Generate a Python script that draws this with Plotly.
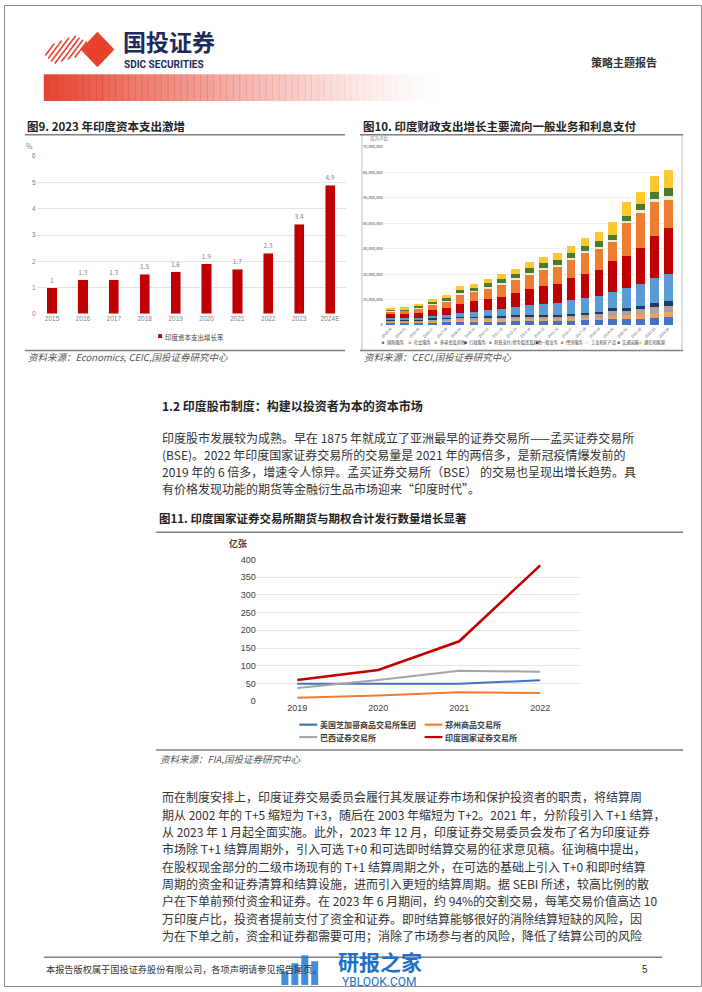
import plotly.graph_objects as go

W, H = 702, 992
def px(x): return x / W
def py(y): return 1 - y / H

# ---------------- data ----------------
years9 = ["2015", "2016", "2017", "2018", "2019", "2020", "2021", "2022", "2023", "2024E"]
capex_growth = [1, 1.3, 1.3, 1.5, 1.6, 1.9, 1.7, 2.3, 3.4, 4.9]
series9_name = "印度资本支出增长率"

years10 = ["2003-04", "2004-05", "2005-06", "2006-07", "2007-08", "2008-09", "2009-10",
           "2010-11", "2011-12", "2012-13", "2013-14", "2014-15", "2015-16", "2016-17",
           "2017-18", "2018-19", "2019-20", "2020-21", "2021-22", "2022-23", "2023-24"]
names10 = ["国防服务", "社会服务", "养老金及其他", "行政服务", "利息支付/债务偿还及其他",
           "一般业务", "经济服务", "工业和矿产品", "交通运输", "通信和能源"]
colors10 = ["#4472C4", "#F1A064", "#A5A5A5", "#1F3864", "#5B9BD5",
            "#C00000", "#ED7D31", "#E2EFD9", "#4E7A2E", "#FFC82E"]
# values in millions of 百万卢比 (x 1,000,000)
defence   = [1.0,1.0,1.1,1.2,1.3,1.4,1.4,1.5,1.5,1.6,1.6,1.6,1.6,1.7,1.8,1.9,2.2,2.3,2.5,2.8,3.1]
social    = [0.3,0.3,0.3,0.4,0.4,0.6,0.6,0.7,0.7,0.8,0.8,0.9,0.9,1.0,1.0,1.0,1.4,1.5,1.8,2.0,2.1]
pension   = [0.6,0.6,0.6,0.7,0.8,0.9,0.9,0.9,1.0,1.0,1.0,1.0,1.1,1.2,1.3,1.4,1.9,1.8,2.0,2.2,2.3]
admin     = [0.3,0.3,0.3,0.3,0.3,0.4,0.4,0.4,0.4,0.4,0.5,0.5,0.5,0.6,0.7,0.8,1.0,1.0,1.2,1.5,1.8]
interest  = [0.4,0.4,0.6,0.8,1.1,1.5,2.0,2.4,2.8,3.2,3.8,4.2,4.5,5.2,5.8,6.2,6.5,7.8,8.5,9.8,10.6]
general   = [1.6,1.7,2.0,2.4,2.8,3.6,4.0,4.4,4.8,5.5,6.4,7.2,7.6,8.8,9.6,10.5,12.3,12.6,14.2,16.8,18.4]
economic  = [1.3,1.3,1.8,2.2,2.6,3.6,3.8,4.2,4.8,5.4,5.8,6.4,6.8,7.2,8.2,8.3,7.4,13.0,14.0,13.2,10.8]
industry  = [0.2,0.2,0.2,0.3,0.3,0.4,0.4,0.5,0.5,0.5,0.6,0.6,0.6,0.6,0.6,0.7,0.8,0.8,0.9,1.2,1.5]
transport = [0.5,0.5,0.6,0.8,0.9,1.2,1.2,1.5,1.6,1.7,1.8,1.9,2.0,2.0,2.2,2.2,1.8,2.0,2.4,2.6,3.2]
comms     = [0.6,0.6,0.8,1.0,1.2,1.6,1.5,1.7,2.0,2.0,2.4,2.6,2.6,2.9,3.0,3.4,5.3,5.5,4.8,6.6,7.0]
series10 = [defence, social, pension, admin, interest, general, economic, industry, transport, comms]

years11 = ["2019", "2020", "2021", "2022"]
names11 = ["美国芝加哥商品交易所集团", "郑州商品交易所", "巴西证券交易所", "印度国家证券交易所"]
colors11 = ["#4472C4", "#ED7D31", "#A5A5A5", "#C00000"]
cme  = [49, 49, 49, 59]
zce  = [10, 16, 25, 23]
b3   = [37, 60, 86, 83]
nse  = [60, 88, 169, 383]
series11 = [cme, zce, b3, nse]

para1 = [
    "印度股市发展较为成熟。早在 1875 年就成立了亚洲最早的证券交易所——孟买证券交易所",
    "(BSE)。2022 年印度国家证券交易所的交易量是 2021 年的两倍多，是新冠疫情爆发前的",
    "2019 年的 6 倍多，增速令人惊异。孟买证券交易所（BSE） 的交易也呈现出增长趋势。具",
    "有价格发现功能的期货等金融衍生品市场迎来“印度时代”。",
]
para2 = [
    "而在制度安排上，印度证券交易委员会履行其发展证券市场和保护投资者的职责，将结算周",
    "期从 2002 年的 T+5 缩短为 T+3，随后在 2003 年缩短为 T+2。2021 年，分阶段引入 T+1 结算，",
    "从 2023 年 1 月起全面实施。此外，2023 年 12 月，印度证券交易委员会发布了名为印度证券",
    "市场除 T+1 结算周期外，引入可选 T+0 和可选即时结算交易的征求意见稿。征询稿中提出，",
    "在股权现金部分的二级市场现有的 T+1 结算周期之外，在可选的基础上引入 T+0 和即时结算",
    "周期的资金和证券清算和结算设施，进而引入更短的结算周期。据 SEBI 所述，较高比例的散",
    "户在下单前预付资金和证券。在 2023 年 6 月期间，约 94%的交割交易，每笔交易价值高达 10",
    "万印度卢比，投资者提前支付了资金和证券。即时结算能够很好的消除结算短缺的风险，因",
    "为在下单之前，资金和证券都需要可用；消除了市场参与者的风险，降低了结算公司的风险",
]

CJK = "Noto Sans CJK SC"
fig = go.Figure()

# ---------------- Fig 9 ----------------
fig.add_trace(go.Bar(
    x=years9, y=capex_growth, name=series9_name, xaxis="x", yaxis="y",
    marker_color="#C00000", width=0.33,
    text=[f"{v:g}" for v in capex_growth], textposition="outside",
    textfont=dict(size=6.5, color="#7F7F7F"), cliponaxis=False, showlegend=False))

# ---------------- Fig 10 ----------------
for nm, col, vals in zip(names10, colors10, series10):
    fig.add_trace(go.Bar(
        x=years10, y=[v * 1e6 for v in vals], name=nm, xaxis="x2", yaxis="y2",
        marker=dict(color=col, line=dict(width=0)), width=0.62, showlegend=False))

# ---------------- Fig 11 ----------------
for nm, col, vals in zip(names11, colors11, series11):
    fig.add_trace(go.Scatter(
        x=years11, y=vals, name=nm, xaxis="x3", yaxis="y3", mode="lines",
        line=dict(color=col, width=2.6 if col == "#C00000" else 2), showlegend=False))

shapes = []
ann = []

def text(x, y, s, size, color="#222", bold=False, italic=False, xanchor="left",
         yanchor="middle", family=CJK, angle=0):
    t = f"<b>{s}</b>" if bold else s
    if italic:
        t = f"<i>{t}</i>"
    ann.append(dict(x=px(x), y=py(y), xref="paper", yref="paper", text=t, showarrow=False,
                    xanchor=xanchor, yanchor=yanchor, textangle=angle,
                    font=dict(size=size, color=color, family=family)))

def hline(x0, x1, y, color="#808080", width=1.2):
    shapes.append(dict(type="line", xref="paper", yref="paper", x0=px(x0), x1=px(x1),
                       y0=py(y), y1=py(y), line=dict(color=color, width=width)))

def rect(x0, y0, x1, y1, fill, line_color=None, lw=0, opacity=1):
    shapes.append(dict(type="rect", xref="paper", yref="paper", x0=px(x0), x1=px(x1),
                       y0=py(y0), y1=py(y1), fillcolor=fill, opacity=opacity,
                       line=dict(color=line_color or fill, width=lw)))

# page border
shapes.append(dict(type="rect", xref="paper", yref="paper", x0=px(0.5), x1=px(701.5),
                   y0=py(991.5), y1=py(0.5), line=dict(color="#8C8C8C", width=1)))

# ---------------- header ----------------
for k in range(7):
    cx = 46 + 5.2 * k
    half = [6, 9, 12, 14, 12, 10, 8][k]
    shapes.append(dict(type="line", xref="paper", yref="paper",
                       x0=px(cx - half * 0.75), y0=py(45 + half), x1=px(cx + half * 0.75), y1=py(45 - half),
                       line=dict(color="#E8412C", width=1.6)))
shapes.append(dict(type="path", xref="paper", yref="paper",
                   path=f"M {px(77)} {py(45)} L {px(94)} {py(27)} L {px(111)} {py(45)} L {px(94)} {py(63)} Z",
                   fillcolor="#E8412C", line=dict(width=0)))
text(118, 36, "国投证券", 23, color="#1E2A5E", bold=True)
text(119, 60.5, "SDIC SECURITIES", 10, color="#1E2A5E", bold=True, family="Roboto")
text(659, 58, "策略主题报告", 11, color="#333", bold=True, xanchor="right")
n = 60
for i in range(n):
    x0 = 40 + (434 - 40) * i / n
    x1 = 40 + (434 - 40) * (i + 1) / n
    a = (1 - i / n) ** 1.3
    rect(x0, 70, x1 + 0.5, 97, "#E23B27", opacity=a * 0.95)

# ---------------- Fig 9 decorations ----------------
text(21, 122, "图9. 2023 年印度资本支出激增", 11.5, bold=True)
hline(21, 343, 131, width=1.5)
hline(21, 343, 349, width=1.5)
text(26, 142, "%", 7, color="#7F7F7F", xanchor="center")
rect(155, 332.5, 159, 336.5, "#C00000")
text(160, 335, series9_name, 6.5, color="#404040")
text(22, 356, "资料来源：Economics, CEIC,国投证券研究中心", 9.5, color="#555", italic=True)

# ---------------- Fig 10 decorations ----------------
text(359, 122, "图10. 印度财政支出增长主要流向一般业务和利息支付", 11.5, bold=True)
shapes.append(dict(type="rect", xref="paper", yref="paper", x0=px(360), x1=px(682),
                   y0=py(349), y1=py(131), line=dict(color="#BFBFBF", width=1)))
hline(358, 683, 131, width=1.5)
hline(358, 683, 349, width=1.5)
text(366, 135, "百万卢比", 4.5, color="#595959")
lx = [380, 407, 433, 463, 488, 535, 560, 585, 617, 639]
for xx, nm, col in zip(lx, names10, colors10):
    rect(xx, 340, xx + 2.4, 342.4, col)
    text(xx + 3, 341.3, nm, 4.2, color="#404040")
text(360, 356, "资料来源：CECI,国投证券研究中心", 9.5, color="#555", italic=True)

# ---------------- section text ----------------
text(157, 405, "1.2 印度股市制度：构建以投资者为本的资本市场", 12, bold=True, color="#222")
for i, s in enumerate(para1):
    text(157, 437 + 17.3 * i, s, 12, color="#333")

# ---------------- Fig 11 decorations ----------------
text(154, 518, "图11. 印度国家证券交易所期货与期权合计发行数量增长显著", 11.5, bold=True)
hline(153, 683, 532.7, width=1.5)
hline(153, 683, 752.7, width=1.5)
text(235, 544, "亿张", 9, color="#404040", bold=True, xanchor="center")
leg11 = [(297, 727), (423, 727), (297, 739.5), (423, 739.5)]
for (xx, yy), nm, col in zip(leg11, names11, colors11):
    hline(xx, xx + 18, yy, color=col, width=2.2)
    text(xx + 19, yy, nm, 8, color="#404040", bold=True)
text(155, 762, "资料来源：FIA,国投证券研究中心", 9.5, color="#555", italic=True)

for i, s in enumerate(para2):
    text(157, 800 + 17.5 * i, s, 12, color="#333")

# ---------------- footer ----------------
hline(40, 662, 962, color="#7F7F7F", width=1.5)
text(40, 974, "本报告版权属于国投证券股份有限公司，各项声明请参见报告尾页。", 9.2, color="#333")
text(650, 974, "5", 10, color="#333", xanchor="right", family="Liberation Sans")

# watermark
for k, hgt in enumerate([14, 22, 30, 24]):
    rect(279 + 10 * k, 990 - hgt, 286 + 10 * k, 990, "#1E7BD6", opacity=0.85)
text(378, 966, "研报之家", 21, color="#1E6FC8", bold=True, xanchor="center")
text(378, 986.5, "YBLOOK.COM", 12, color="#1E6FC8", xanchor="center", family="Roboto")

tick9 = dict(size=6.5, color="#7F7F7F", family="Liberation Sans")
fig.update_layout(
    width=W, height=H, margin=dict(l=0, r=0, t=0, b=0),
    paper_bgcolor="white", plot_bgcolor="white",
    barmode="stack", showlegend=False,
    font=dict(family=CJK),
    xaxis=dict(domain=[px(32.8), px(343.5)], anchor="y", type="category",
               tickfont=tick9, showgrid=False, ticks="", showline=False),
    yaxis=dict(domain=[py(312), py(152.7)], anchor="x", range=[0, 6], dtick=1,
               gridcolor="#E3E3E3", gridwidth=1, zeroline=False, tickfont=tick9, ticks=""),
    xaxis2=dict(domain=[px(382), px(675)], anchor="y2", type="category", tickangle=-45,
                tickfont=dict(size=3.5, color="#595959"), showgrid=False, ticks=""),
    yaxis2=dict(domain=[py(323.3), py(143.3)], anchor="x2", range=[0, 70e6], dtick=10e6,
                tickformat=",", gridcolor="#EDEDED", zeroline=False,
                tickfont=dict(size=4, color="#404040"), ticks=""),
    xaxis3=dict(domain=[px(254.3), px(580)], anchor="y3", type="category", range=[-0.5, 3.5],
                tickfont=dict(size=9, color="#404040", family="Liberation Sans"),
                showgrid=False, ticks=""),
    yaxis3=dict(domain=[py(703.3), py(560)], anchor="x3", range=[0, 400], dtick=50,
                gridcolor="#E6E6E6", zeroline=False,
                tickfont=dict(size=9, color="#404040", family="Liberation Sans"), ticks=""),
    shapes=shapes, annotations=ann,
)

fig.write_html("out.html")
